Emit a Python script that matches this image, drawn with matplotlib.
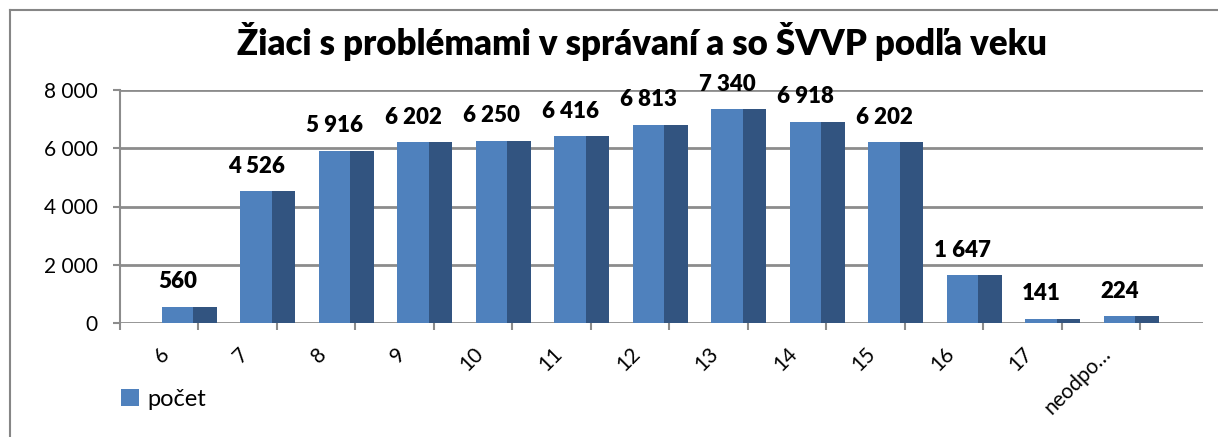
import matplotlib
matplotlib.use("Agg")
import matplotlib.pyplot as plt
import matplotlib.patches as patches
from matplotlib.lines import Line2D

# --- DATA ---
TITLE = "Žiaci s problémami v správaní a so ŠVVP podľa veku"
categories = ["6", "7", "8", "9", "10", "11", "12", "13", "14", "15", "16", "17", "neodpo…"]
pocet = [560, 4526, 5916, 6202, 6250, 6416, 6813, 7340, 6918, 6202, 1647, 141, 224]
y_ticks = [0, 2000, 4000, 6000, 8000]
series_name = "počet"

FRONT = "#4f81bd"
SIDE = "#325480"
GRID = "#8c8c8c"

plt.rcParams['font.family'] = ['Lato', 'DejaVu Sans']


def fmt(v):
    return f"{v:,}".replace(",", " ")


fig = plt.figure(figsize=(12.18, 4.37), dpi=100)
W, H = 1218, 437
ax = fig.add_axes([120 / W, (H - 323) / H, (1203 - 120) / W, (323 - 90) / H])

n = len(categories)
xmax = n + 0.8
ax.set_xlim(0, xmax)
ax.set_ylim(0, 8000)

# gridlines (drawn manually so they stretch to the back wall)
for t in y_ticks:
    ax.axhline(t, color=GRID, lw=2, zorder=1)

# 3D-ish bars: lighter front face + darker side face
for i, v in enumerate(pocet):
    ax.bar(i + 0.535, v, width=0.40, align='edge', color=FRONT, zorder=3, lw=0)
    ax.bar(i + 0.935, v, width=0.30, align='edge', color=SIDE, zorder=3, lw=0)
    ax.annotate(fmt(v), (i + 0.735, v), xytext=(0, 18), textcoords='offset points',
                ha='center', va='center', fontsize=16, fontweight='heavy', color='black',
                annotation_clip=False)

# axes styling
for s in ['top', 'right', 'bottom']:
    ax.spines[s].set_visible(False)
ax.spines['left'].set_color(GRID)
ax.spines['left'].set_linewidth(1.5)

ax.set_yticks(y_ticks)
ax.set_yticklabels([fmt(t) for t in y_ticks], fontsize=15)
ax.tick_params(axis='y', length=5, width=1.5, color=GRID, pad=11)

ax.set_xticks(range(n + 1))
ax.set_xticklabels([])
ax.tick_params(axis='x', which='major', length=5, width=1.5, color=GRID, direction='out')
ax.set_xticks([i + 0.5 for i in range(n)], minor=True)
ax.set_xticklabels(categories, minor=True, rotation=45, ha='right', va='top',
                   rotation_mode='anchor', fontsize=15)
ax.tick_params(axis='x', which='minor', length=0, pad=15)

# title
fig.text(0.527, 0.904, TITLE, ha='center', va='center', fontsize=25, fontweight='heavy')

# legend
handle = patches.Patch(facecolor=FRONT, edgecolor='none', label=series_name)
fig.legend(handles=[handle], loc='center left', bbox_to_anchor=(112 / W, 1 - 399 / H),
           frameon=False, fontsize=17, handlelength=0.75, handleheight=0.75,
           handletextpad=0.35, borderaxespad=0)

# outer chart frame (top and left edge visible)
fig.add_artist(Line2D([10 / W, 1.0], [1 - 10 / H, 1 - 10 / H], color='#868686', lw=1.5))
fig.add_artist(Line2D([10 / W, 10 / W], [0, 1 - 10 / H], color='#868686', lw=1.5))

fig.savefig("out.png", dpi=100)
